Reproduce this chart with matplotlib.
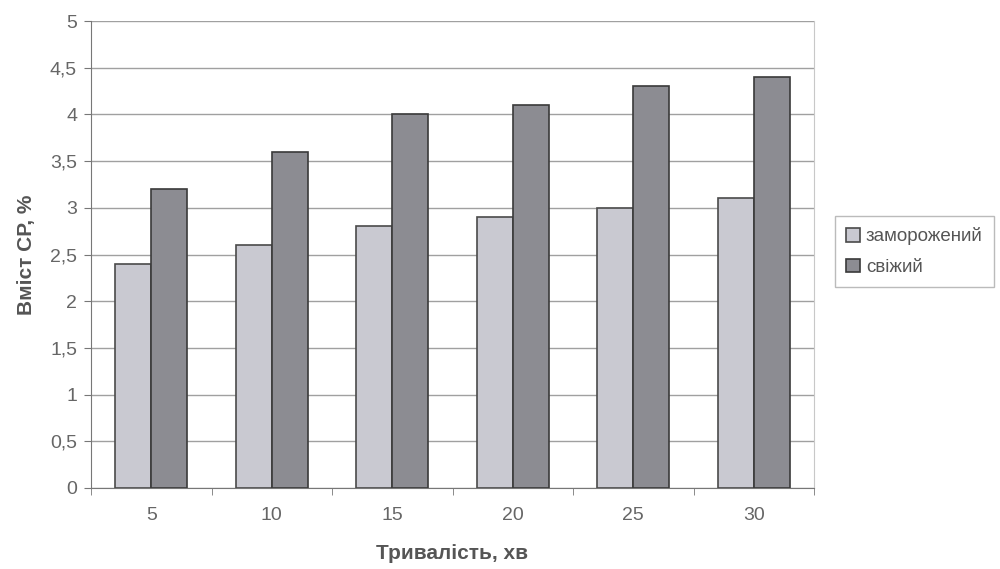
import matplotlib
matplotlib.use("Agg")
import matplotlib.pyplot as plt
import numpy as np

categories = ["5", "10", "15", "20", "25", "30"]
frozen = [2.4, 2.6, 2.8, 2.9, 3.0, 3.1]
fresh = [3.2, 3.6, 4.0, 4.1, 4.3, 4.4]
series_labels = ["заморожений", "свіжий"]
yticks = [0, 0.5, 1, 1.5, 2, 2.5, 3, 3.5, 4, 4.5, 5]
ytick_labels = ["0", "0,5", "1", "1,5", "2", "2,5", "3", "3,5", "4", "4,5", "5"]

plt.rcParams['font.family'] = ['Liberation Sans', 'DejaVu Sans']

fig = plt.figure(figsize=(10, 5.69), dpi=100)
ax = fig.add_axes([0.091, 0.1424, 0.723, 0.8206])

x = np.arange(len(categories))
w = 0.3
ax.bar(x - w/2, frozen, w, color="#c9c9d1", edgecolor="#4a4a4a", linewidth=1.2,
       label=series_labels[0], zorder=3)
ax.bar(x + w/2, fresh, w, color="#8c8c92", edgecolor="#3a3a3a", linewidth=1.2,
       label=series_labels[1], zorder=3)

ax.set_xlim(-0.5, len(categories) - 0.5)
ax.set_ylim(0, 5)
ax.set_yticks(yticks)
ax.set_yticklabels(ytick_labels, fontsize=14, color="#666666")
ax.set_xticks(x)
ax.set_xticklabels(categories, fontsize=14, color="#666666")
ax.tick_params(axis='x', length=0, pad=14)
ax.set_xticks(np.arange(len(categories) + 1) - 0.5, minor=True)
ax.tick_params(axis='x', which='minor', length=5, color="#777777")
ax.tick_params(axis='y', length=5, color="#777777", pad=5)

ax.grid(axis='y', color="#a0a0a0", linewidth=1.0, zorder=0)
ax.spines["top"].set_visible(False)
ax.spines["right"].set_color("#c8c8c8")
ax.spines["left"].set_color("#777777")
ax.spines["bottom"].set_color("#777777")

ax.set_ylabel("Вміст СР, %", fontsize=15, fontweight="bold", color="#555555", labelpad=10)
ax.set_xlabel("Тривалість, хв", fontsize=15, fontweight="bold", color="#555555", labelpad=14)

leg = fig.legend(loc="upper left", bbox_to_anchor=(0.835, 0.62), fontsize=13.5,
                 frameon=True, fancybox=False, edgecolor="#aaaaaa",
                 handlelength=0.75, handleheight=0.75, handletextpad=0.3,
                 borderpad=0.6, labelspacing=0.7, labelcolor="#555555",
                 borderaxespad=0)

fig.savefig("out.png", dpi=100)
